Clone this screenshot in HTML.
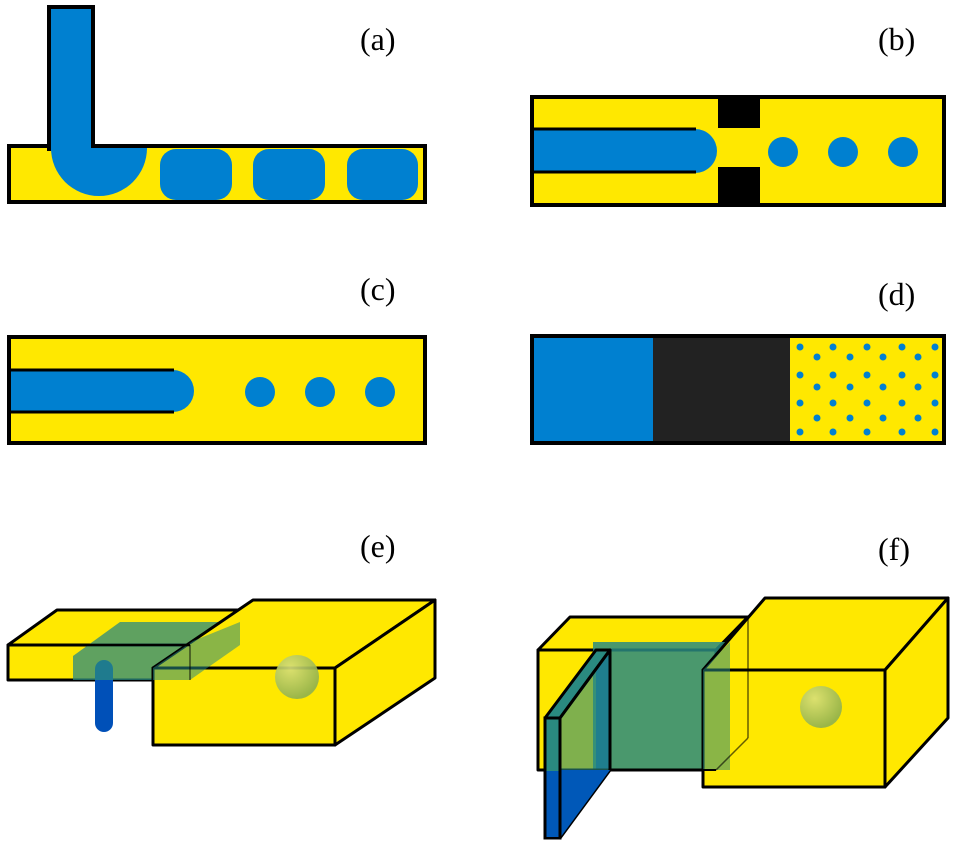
<!DOCTYPE html>
<html><head><meta charset="utf-8"><style>
html,body{margin:0;padding:0;background:#fff;}
svg{display:block;}
text{font-family:"Liberation Serif",serif;font-size:32px;fill:#000;}
</style></head><body>
<svg width="955" height="844" viewBox="0 0 955 844" xmlns="http://www.w3.org/2000/svg">
<defs>
<radialGradient id="g" cx="0.35" cy="0.3" r="0.7"><stop offset="0" stop-color="#d8e07a"/><stop offset="1" stop-color="#8fb050"/></radialGradient>
</defs>
<!-- labels -->
<text x="360" y="50">(a)</text>
<text x="878" y="50">(b)</text>
<text x="360" y="300">(c)</text>
<text x="878" y="305">(d)</text>
<text x="360" y="557">(e)</text>
<text x="878" y="560">(f)</text>

<!-- (a) -->
<rect x="9" y="146" width="416" height="56" fill="#ffe800" stroke="#000" stroke-width="4"/>
<rect x="49" y="7" width="44" height="142" fill="#0080d0" stroke="#000" stroke-width="4"/>
<rect x="51" y="9" width="40" height="142" fill="#0080d0"/>
<path d="M51 148 L147 148 A48 48 0 0 1 51 148 Z" fill="#0080d0"/>
<path d="M52 148 A48 47 0 0 0 147 148 Z" fill="#0080d0"/>
<rect x="160" y="149" width="72" height="51" rx="16" fill="#0080d0"/>
<rect x="253" y="149" width="72" height="51" rx="16" fill="#0080d0"/>
<rect x="347" y="149" width="71" height="51" rx="16" fill="#0080d0"/>

<!-- (b) -->
<rect x="532" y="97" width="412" height="108" fill="#ffe800" stroke="#000" stroke-width="4"/>
<rect x="534" y="129" width="162" height="44" fill="#0080d0"/>
<path d="M695 129 A22 22 0 0 1 695 173 Z" fill="#0080d0"/>
<line x1="534" y1="129" x2="696" y2="129" stroke="#000" stroke-width="3"/>
<line x1="534" y1="172" x2="696" y2="172" stroke="#000" stroke-width="3"/>
<rect x="718" y="97" width="42" height="31" fill="#000"/>
<rect x="718" y="167" width="42" height="38" fill="#000"/>
<circle cx="783" cy="152" r="15" fill="#0080d0"/>
<circle cx="843" cy="152" r="15" fill="#0080d0"/>
<circle cx="903" cy="152" r="15" fill="#0080d0"/>

<!-- (c) -->
<rect x="9" y="337" width="416" height="106" fill="#ffe800" stroke="#000" stroke-width="4"/>
<rect x="11" y="370" width="163" height="42" fill="#0080d0"/>
<path d="M173 370 A21 21 0 0 1 173 412 Z" fill="#0080d0"/>
<line x1="11" y1="370" x2="174" y2="370" stroke="#000" stroke-width="3"/>
<line x1="11" y1="412" x2="174" y2="412" stroke="#000" stroke-width="3"/>
<circle cx="260" cy="392" r="15" fill="#0080d0"/>
<circle cx="320" cy="392" r="15" fill="#0080d0"/>
<circle cx="380" cy="392" r="15" fill="#0080d0"/>

<!-- (d) -->
<rect x="532" y="336" width="412" height="107" fill="#ffe800" stroke="#000" stroke-width="4"/>
<rect x="534" y="338" width="119" height="103" fill="#0080d0"/>
<rect x="653" y="338" width="137" height="103" fill="#222"/>
<g fill="#0080d0">
<circle cx="800" cy="347" r="3.5"/><circle cx="800" cy="375" r="3.5"/><circle cx="800" cy="403" r="3.5"/><circle cx="800" cy="432" r="3.5"/>
<circle cx="833" cy="347" r="3.5"/><circle cx="833" cy="375" r="3.5"/><circle cx="833" cy="403" r="3.5"/><circle cx="833" cy="432" r="3.5"/>
<circle cx="867" cy="347" r="3.5"/><circle cx="867" cy="375" r="3.5"/><circle cx="867" cy="403" r="3.5"/><circle cx="867" cy="432" r="3.5"/>
<circle cx="902" cy="347" r="3.5"/><circle cx="902" cy="375" r="3.5"/><circle cx="902" cy="403" r="3.5"/><circle cx="902" cy="432" r="3.5"/>
<circle cx="935" cy="347" r="3.5"/><circle cx="935" cy="375" r="3.5"/><circle cx="935" cy="403" r="3.5"/><circle cx="935" cy="432" r="3.5"/>
<circle cx="817" cy="357" r="3.5"/><circle cx="817" cy="387" r="3.5"/><circle cx="817" cy="418" r="3.5"/>
<circle cx="850" cy="357" r="3.5"/><circle cx="850" cy="387" r="3.5"/><circle cx="850" cy="418" r="3.5"/>
<circle cx="883" cy="357" r="3.5"/><circle cx="883" cy="387" r="3.5"/><circle cx="883" cy="418" r="3.5"/>
<circle cx="918" cy="357" r="3.5"/><circle cx="918" cy="387" r="3.5"/><circle cx="918" cy="418" r="3.5"/>
</g>

<!-- (e) -->
<g stroke="#000" stroke-width="3" stroke-linejoin="round">
<path d="M8 645 L57 610 L240 610 L190 645 Z" fill="#ffe800"/>
<rect x="8" y="645" width="182" height="35" fill="#ffe800"/>
<path d="M190 645 L240 610 L240 645 L190 680 Z" fill="#ffe800"/>
</g>
<rect x="95" y="660" width="18" height="72" rx="9" fill="#0050b8"/>
<path d="M73 656 L120 622 L240 622 L240 645 L190 680 L73 680 Z" fill="#2a8a80" fill-opacity="0.75"/>
<g stroke="#000" stroke-width="3" stroke-linejoin="round">
<path d="M153 668 L253 600 L435 600 L335 668 Z" fill="#ffe800"/>
<rect x="153" y="668" width="182" height="77" fill="#ffe800"/>
<path d="M335 668 L435 600 L435 678 L335 745 Z" fill="#ffe800"/>
</g>
<path d="M153 668 L193 641 L240 622 L240 645 L190 680 L153 680 Z" fill="#2a8a80" fill-opacity="0.55"/>
<line x1="8" y1="645" x2="190" y2="645" stroke="#000" stroke-width="2.5"/>
<line x1="190" y1="645" x2="190" y2="680" stroke="#000" stroke-width="1.5" stroke-opacity="0.6"/>
<circle cx="297" cy="677" r="22" fill="url(#g)" fill-opacity="0.9"/>

<!-- (f) -->
<g stroke="#000" stroke-width="3" stroke-linejoin="round">
<path d="M538 650 L570 617 L748 617 L716 650 Z" fill="#ffe800"/>
<rect x="538" y="650" width="178" height="120" fill="#ffe800"/>
<path d="M716 650 L748 617 L748 738 L716 770 Z" fill="#ffe800"/>
</g>
<path d="M593 642 L730 642 L730 770 L593 770 Z" fill="#2a8a80" fill-opacity="0.85"/>
<rect x="596" y="650" width="14" height="120" fill="#0060b0" fill-opacity="0.8"/>
<g stroke="#000" stroke-width="3" stroke-linejoin="round">
<path d="M703 670 L765 598 L948 598 L885 670 Z" fill="#ffe800"/>
<rect x="703" y="670" width="182" height="117" fill="#ffe800"/>
<path d="M885 670 L948 598 L948 718 L885 787 Z" fill="#ffe800"/>
</g>
<path d="M703 670 L730 642 L730 770 L703 770 Z" fill="#2a8a80" fill-opacity="0.55"/>
<line x1="703" y1="770" x2="716" y2="770" stroke="#000" stroke-width="2"/>
<line x1="538" y1="770" x2="703" y2="770" stroke="#000" stroke-width="3"/>
<line x1="748" y1="617" x2="748" y2="738" stroke="#000" stroke-width="1.5" stroke-opacity="0.6"/>
<line x1="748" y1="738" x2="716" y2="770" stroke="#000" stroke-width="1.5" stroke-opacity="0.6"/>
<!-- plate -->
<path d="M545 718 L596 650 L610 650 L560 718 Z" fill="#2a8a80" stroke="#000" stroke-width="3" stroke-linejoin="round"/>
<path d="M560 718 L610 650 L610 770 L560 838 Z" fill="#2a8a80" fill-opacity="0.6" stroke="#000" stroke-width="3" stroke-linejoin="round"/>
<path d="M560 770 L610 770 L560 838 Z" fill="#0058b8"/>
<rect x="545" y="718" width="15" height="120" fill="#2a8a80" stroke="#000" stroke-width="3"/>
<rect x="546.5" y="771" width="12" height="66" fill="#0058b8"/>
<circle cx="821" cy="707" r="21" fill="url(#g)" fill-opacity="0.9"/>
</svg>
</body></html>
